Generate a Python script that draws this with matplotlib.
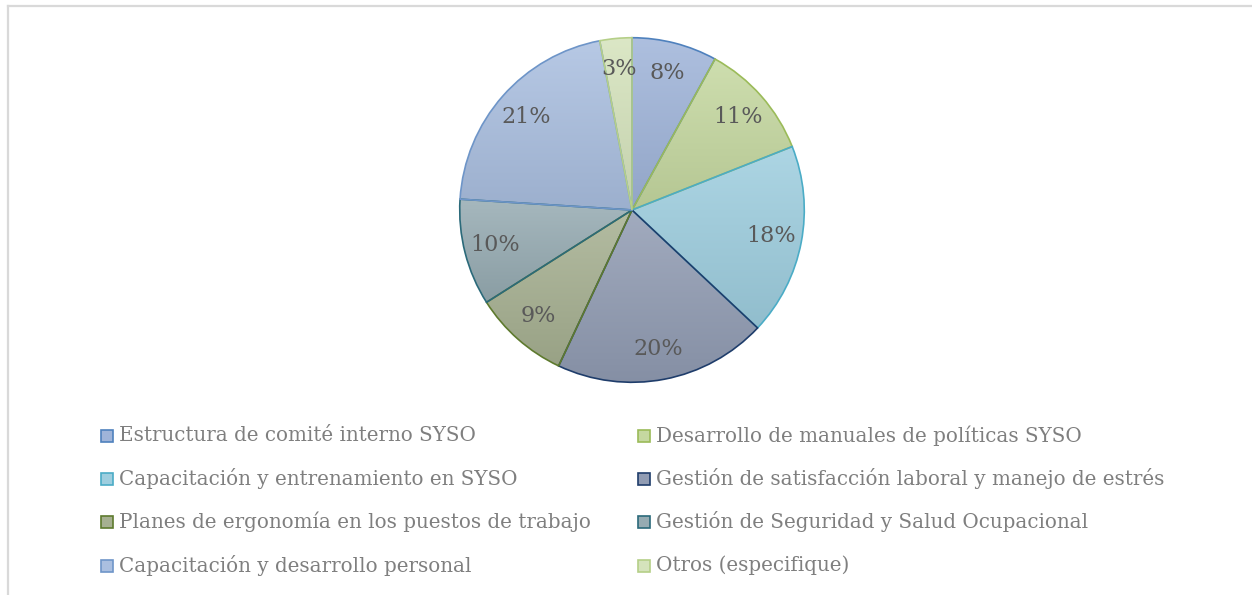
import matplotlib
matplotlib.use("Agg")
import numpy as np
import matplotlib.pyplot as plt
from matplotlib.patches import Rectangle
from matplotlib.lines import Line2D
from matplotlib.colors import to_rgb

categories = [
    "Estructura de comité interno SYSO",
    "Desarrollo de manuales de políticas SYSO",
    "Capacitación y entrenamiento en SYSO",
    "Gestión de satisfacción laboral y manejo de estrés",
    "Planes de ergonomía en los puestos de trabajo",
    "Gestión de Seguridad y Salud Ocupacional",
    "Capacitación y desarrollo personal",
    "Otros (especifique)",
]
values = [8, 11, 18, 20, 9, 10, 21, 3]

fill_colors = ["#9FB4D9", "#C5D8A0", "#9ECEDF", "#919CB3",
               "#A6B091", "#96ABB2", "#AABFE0", "#D5E3BC"]
edge_colors = ["#4F81BD", "#9BBB59", "#4BACC6", "#1F3D6B",
               "#5E7A2E", "#2B6A7A", "#6E95C8", "#B5CF88"]

W, H = 1252, 595
fig = plt.figure(figsize=(W / 100, H / 100), dpi=100)
fig.patch.set_facecolor("white")

# outer chart border (top and left visible)
fig.add_artist(Line2D([8 / W, 8 / W], [0, 1 - 6 / H], transform=fig.transFigure,
                      color="#D9D9D9", lw=1.6))
fig.add_artist(Line2D([8 / W, 1], [1 - 6 / H, 1 - 6 / H], transform=fig.transFigure,
                      color="#D9D9D9", lw=1.6))

cx, cy, r = 632, 210, 174
ax = fig.add_axes([(cx - r) / W, (H - cy - r) / H, 2 * r / W, 2 * r / H])
wedges, texts, autotexts = ax.pie(
    values, startangle=90, counterclock=False, colors=fill_colors,
    autopct=lambda p: f"{p:.0f}%", pctdistance=0.82, radius=1,
    wedgeprops=dict(linewidth=1.2),
    textprops=dict(family="DejaVu Serif", fontsize=16, color="#595959"),
)


def shade(c, f):
    rgb = np.array(to_rgb(c))
    if f >= 0:
        return rgb + (1 - rgb) * f
    return rgb * (1 + f)


# vertical gradient inside each slice (lighter top, darker bottom)
for w, fc, ec in zip(wedges, fill_colors, edge_colors):
    w.set_edgecolor(ec)
    ext = w.get_path().get_extents()
    top = shade(fc, 0.15)
    bot = shade(fc, -0.08)
    t = np.linspace(0, 1, 64)[:, None]
    grad = top[None, :] * (1 - t) + bot[None, :] * t
    img = np.repeat(grad[:, None, :], 2, axis=1)
    im = ax.imshow(img, extent=[ext.x0, ext.x1, ext.y0, ext.y1],
                   origin="upper", aspect="auto", zorder=w.get_zorder(),
                   interpolation="bilinear")
    im.set_clip_path(w)
    w.set_facecolor("none")
    w.set_zorder(w.get_zorder() + 0.1)

ax.set_xlim(-1.01, 1.01)
ax.set_ylim(-1.01, 1.01)
ax.set_aspect("equal")
ax.axis("off")

# legend, row-wise in two columns
col_x = [101, 638]
row_y = [435.5, 478.5, 521.5, 565.5]
for i, (lab, fc, ec) in enumerate(zip(categories, fill_colors, edge_colors)):
    x0 = col_x[i % 2]
    y0 = row_y[i // 2]
    fig.add_artist(Rectangle((x0 / W, (H - y0 - 6) / H), 12 / W, 12 / H,
                             transform=fig.transFigure, facecolor=fc,
                             edgecolor=ec, lw=1.2))
    fig.text((x0 + 18) / W, (H - y0) / H, lab, ha="left", va="center",
             family="DejaVu Serif", fontsize=14.3, color="#7F7F7F")

fig.savefig("out.png", dpi=100, facecolor="white")
